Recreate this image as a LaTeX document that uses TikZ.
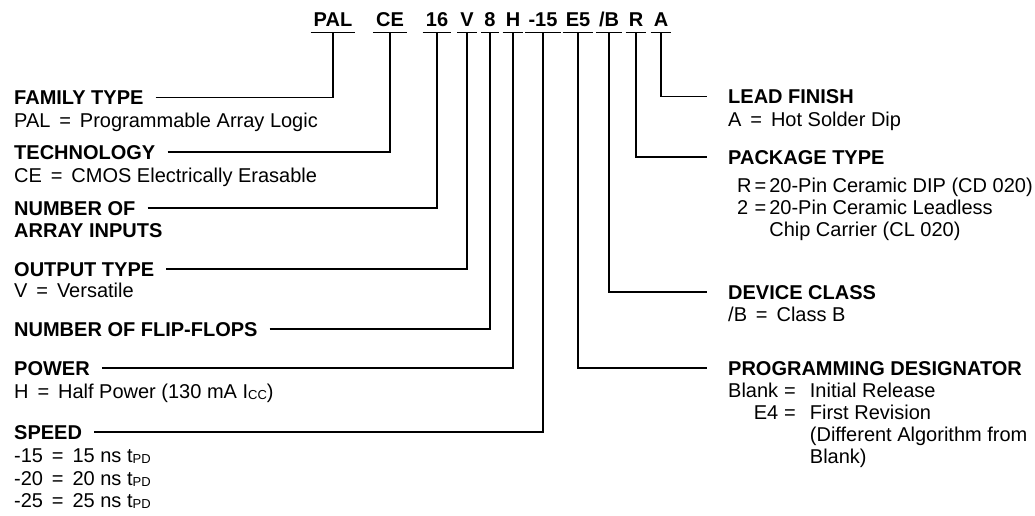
\documentclass[tikz,border=0pt]{standalone}
\usepackage{fontspec}
\setmainfont{Liberation Sans}
\newcommand{\smallsub}[1]{{\fontsize{13}{13}\selectfont\raisebox{-1.5pt}{#1}}}
\begin{document}
\begin{tikzpicture}[x=1pt,y=-1pt,
  code/.style={font=\bfseries, inner xsep=3pt, inner ysep=0pt, text height=14.5pt, text depth=5pt, anchor=base},
  head/.style={font=\bfseries, inner sep=0pt, text height=14.3pt, text depth=0pt, anchor=base west},
  sub/.style={inner sep=0pt, anchor=base west, align=left},
  link/.style={line width=1.3pt}]
\fontsize{20}{22}\selectfont
\useasboundingbox (0,0) rectangle (1035,516);
% codes
\node[code] (pal) at (333,27) {PAL};
\node[code] (ce)  at (390,27) {CE};
\node[code] (n16) at (437,27) {16};
\node[code] (v)   at (467,27) {V};
\node[code] (n8)  at (490,27) {8};
\node[code] (h)   at (513,27) {H};
\node[code] (m15) at (543,27) {-15};
\node[code] (e5)  at (578,27) {E5};
\node[code] (cb)  at (609,27) {/B};
\node[code] (r)   at (636,27) {R};
\node[code] (a)   at (661,27) {A};
\foreach \n in {pal,ce,n16,v,n8,h,m15,e5,cb,r,a}
  \draw[link] (\n.south west) -- (\n.south east);
% left headings
\node[head] (fam) at (14,105) {FAMILY TYPE};
\node[sub] (famd) at (14,128) {PAL \,=\, Programmable Array Logic};
\node[head] (tech) at (14,159) {TECHNOLOGY};
\node[sub] (techd) at (14,182) {CE \,=\, CMOS Electrically Erasable};
\node[head] (nai) at (14,215) {NUMBER OF};
\node[head] (naid) at (14,237) {ARRAY INPUTS};
\node[head] (out) at (14,276) {OUTPUT TYPE};
\node[sub] (outd) at (14,297) {V \,=\, Versatile};
\node[head] (nff) at (14,336) {NUMBER OF FLIP-FLOPS};
\node[head] (pow) at (14,375) {POWER};
\node[sub] (powd) at (14,398) {H \,=\, Half Power (130 mA I\smallsub{CC})};
\node[head] (spd) at (14,439) {SPEED};
\node[sub] (spd1) at (14,462) {-15 \,=\, 15 ns t\smallsub{PD}};
\node[sub] (spd2) at (14,485) {-20 \,=\, 20 ns t\smallsub{PD}};
\node[sub] (spd3) at (14,507) {-25 \,=\, 25 ns t\smallsub{PD}};
% right headings
\node[head] (lead) at (728,104) {LEAD FINISH};
\node[sub] (leadd) at (728,127) {A \,=\, Hot Solder Dip};
\node[head] (pkg) at (728,164) {PACKAGE TYPE};
\node[sub] (pkgd) at (737,192) {\begin{tabular}[t]{@{}l@{\hspace{3pt}}c@{\hspace{3pt}}l@{}}
R & = & 20-Pin Ceramic DIP (CD 020)\\
2 & = & 20-Pin Ceramic Leadless\\
  &   & Chip Carrier (CL 020)\end{tabular}};
\node[head] (dev) at (728,299) {DEVICE CLASS};
\node[sub] (devd) at (728,321) {/B \,=\, Class B};
\node[head] (prog) at (728,375) {PROGRAMMING DESIGNATOR};
\node[sub] (progd) at (728,397) {\begin{tabular}[t]{@{}r@{\hspace{6pt}}c@{\hspace{14pt}}l@{}}
Blank & = & Initial Release\\
E4 & = & First Revision\\
   &   & (Different Algorithm from\\
   &   & Blank)\end{tabular}};
% connectors left
\draw[link] ([xshift=12pt]fam.east) -| (pal.south);
\draw[link] ([xshift=12pt]tech.east) -| (ce.south);
\draw[link] ([xshift=12pt]nai.east) -| (n16.south);
\draw[link] ([xshift=12pt]out.east) -| (v.south);
\draw[link] ([xshift=12pt]nff.east) -| (n8.south);
\draw[link] ([xshift=12pt]pow.east) -| (h.south);
\draw[link] ([xshift=12pt]spd.east) -| (m15.south);
% connectors right
\draw[link] (a.south) |- ([xshift=-21pt]lead.west);
\draw[link] (r.south) |- ([xshift=-21pt]pkg.west);
\draw[link] (cb.south) |- ([xshift=-21pt]dev.west);
\draw[link] (e5.south) |- ([xshift=-21pt]prog.west);
\end{tikzpicture}
\end{document}
